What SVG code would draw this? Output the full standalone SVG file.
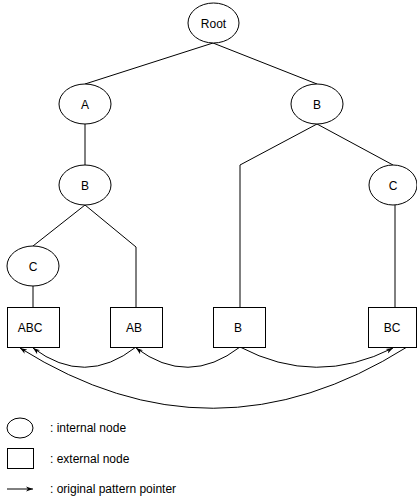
<svg xmlns="http://www.w3.org/2000/svg" width="417" height="502" viewBox="0 0 417 502">
<style>
.n{fill:#fff;stroke:#000;stroke-width:1}
.t{font-family:"Liberation Sans",Arial,sans-serif;font-size:12px;fill:#000;text-anchor:middle}
.l{font-family:"Liberation Sans",Arial,sans-serif;font-size:12px;fill:#000}
.e{fill:none;stroke:#000;stroke-width:1}
</style>
<defs>
<marker id="ar" markerWidth="8" markerHeight="6" refX="7" refY="3" orient="auto" markerUnits="userSpaceOnUse">
<path d="M0,0.5 L7,3 L0,5.5 L2,3 z" fill="#000"/>
</marker>
</defs>
<rect width="417" height="502" fill="#fff"/>
<g id="edges">
<path class="e" d="M213,43 L85,84"/>
<path class="e" d="M213,43 L317,84"/>
<path class="e" d="M85,124 L85,165"/>
<path class="e" d="M85,205 L33,246"/>
<path class="e" d="M85,205 L136,247 L136,307"/>
<path class="e" d="M317,124 L240,165 L240,307"/>
<path class="e" d="M317,124 L393,165"/>
<path class="e" d="M395,205 L395,307"/>
<path class="e" d="M33,286 L33,307"/>
<path class="e" d="M136,347 Q85,387 33,348" marker-end="url(#ar)"/>
<path class="e" d="M240,347 Q188,387 136,348" marker-end="url(#ar)"/>
<path class="e" d="M240,347 Q316,387 393,348" marker-end="url(#ar)"/>
<path class="e" d="M407,347 Q213,469 20,348" marker-end="url(#ar)"/>
</g>
<g id="root"><ellipse class="n" cx="213.5" cy="23" rx="25.5" ry="20"/><text class="t" x="213.5" y="27.5">Root</text></g>
<g id="A"><ellipse class="n" cx="85" cy="104" rx="26" ry="20"/><text class="t" x="85" y="108.5">A</text></g>
<g id="B1"><ellipse class="n" cx="317" cy="104" rx="26" ry="20"/><text class="t" x="317" y="108.5">B</text></g>
<g id="B2"><ellipse class="n" cx="85" cy="185" rx="26" ry="20"/><text class="t" x="85" y="189.5">B</text></g>
<g id="C1"><ellipse class="n" cx="393" cy="185" rx="24" ry="20"/><text class="t" x="393" y="189.5">C</text></g>
<g id="C2"><ellipse class="n" cx="33" cy="266" rx="26" ry="20"/><text class="t" x="33" y="270.5">C</text></g>
<g id="ABC"><rect class="n" x="7.5" y="307.5" width="52" height="40"/><text class="t" x="30" y="331.5">ABC</text></g>
<g id="AB"><rect class="n" x="110.5" y="307.5" width="52" height="40"/><text class="t" x="134" y="331.5">AB</text></g>
<g id="Bx"><rect class="n" x="213.5" y="307.5" width="52" height="40"/><text class="t" x="238" y="331.5">B</text></g>
<g id="BC"><rect class="n" x="368.5" y="307.5" width="48" height="40"/><text class="t" x="392" y="331.5">BC</text></g>
<g id="legend">
<ellipse class="n" cx="20" cy="428" rx="13" ry="10"/>
<text class="l" x="50" y="432">: internal node</text>
<rect class="n" x="7.5" y="448.5" width="26" height="20"/>
<text class="l" x="50" y="463">: external node</text>
<path class="e" d="M7,489 L33,489" marker-end="url(#ar)"/>
<text class="l" x="50" y="493">: original pattern pointer</text>
</g>
</svg>
